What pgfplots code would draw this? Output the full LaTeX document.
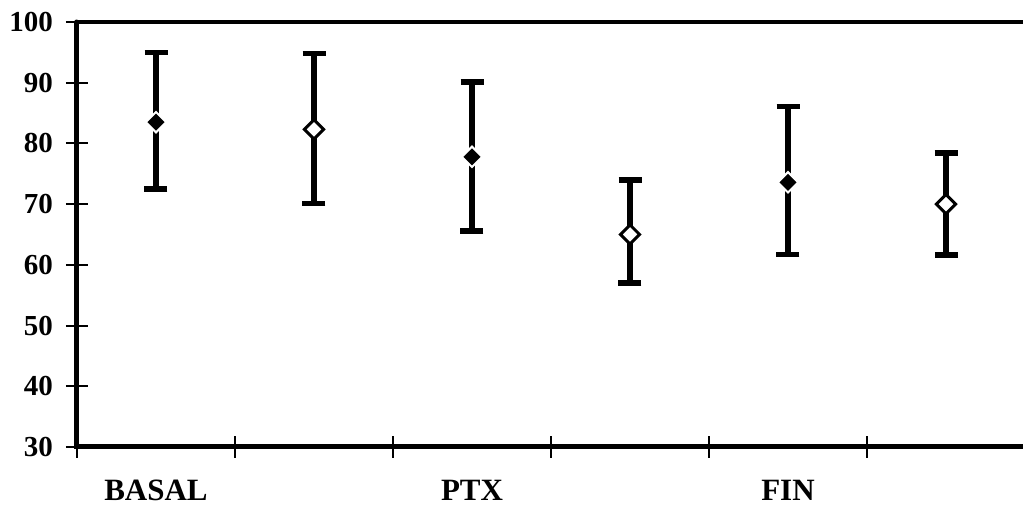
\documentclass[border=0pt]{standalone}
\usepackage{fontspec}
\setmainfont{Liberation Serif}
\usepackage{pgfplots}
\pgfplotsset{compat=1.18}
\begin{document}
\begin{tikzpicture}
\useasboundingbox (-38.5pt,-29.5pt) rectangle (473pt,223.5pt);
\begin{axis}[
  scale only axis,
  width=474pt, height=212.5pt,
  xmin=0, xmax=6, ymin=30, ymax=100,
  clip=false,
  axis line style={draw=none},
  xtick={0,1,2,3,4,5,6}, xticklabels={},
  ytick={30,40,...,100},
  xtick pos=bottom, ytick pos=left,
  tick align=center,
  major tick length=11pt,
  x tick style={line width=0.6pt, black},
  y tick style={line width=1pt, black},
  /pgf/number format/assume math mode=true,
  yticklabel style={font=\fontsize{14.5}{15}\selectfont\bfseries, xshift=-3pt},
  extra x ticks={0.5,2.5,4.5},
  extra x tick labels={BASAL,PTX,FIN},
  extra x tick style={major tick length=0pt, xticklabel style={font=\fontsize{15.5}{16}\selectfont\bfseries, yshift=-13pt}},
]
\draw[line width=2.5pt, line cap=round] (rel axis cs:0,1) -- (rel axis cs:0,0) -- (rel axis cs:1,0);
\draw[line width=2pt] (rel axis cs:0,1) -- (rel axis cs:1,1);
% error bars
\addplot[draw=none, mark=none, error bars/.cd, y dir=both, y explicit,
  error bar style={line width=3pt, black},
  error mark options={rotate=90, mark size=5.75pt, line width=2.8pt, black}]
  coordinates {
  (0.5,83.5) += (0,11.5) -= (0,11.0)
  (1.5,82.3) += (0,12.5) -= (0,12.2)
  (2.5,77.8) += (0,12.3) -= (0,12.2)
  (3.5,65.0) += (0,9.0) -= (0,8.0)
  (4.5,73.6) += (0,12.5) -= (0,11.9)
  (5.5,70.0) += (0,8.4) -= (0,8.4)
  };
% filled diamonds
\addplot[only marks, mark=square*, mark size=3.6pt,
  mark options={rotate=45, fill=black, draw=white, line width=1pt}]
  coordinates {(0.5,83.5) (2.5,77.8) (4.5,73.6)};
% open diamonds
\addplot[only marks, mark=square*, mark size=3.4pt,
  mark options={rotate=45, fill=white, draw=black, line width=1.5pt}]
  coordinates {(1.5,82.3) (3.5,65.0) (5.5,70.0)};
\end{axis}
\end{tikzpicture}
\end{document}
